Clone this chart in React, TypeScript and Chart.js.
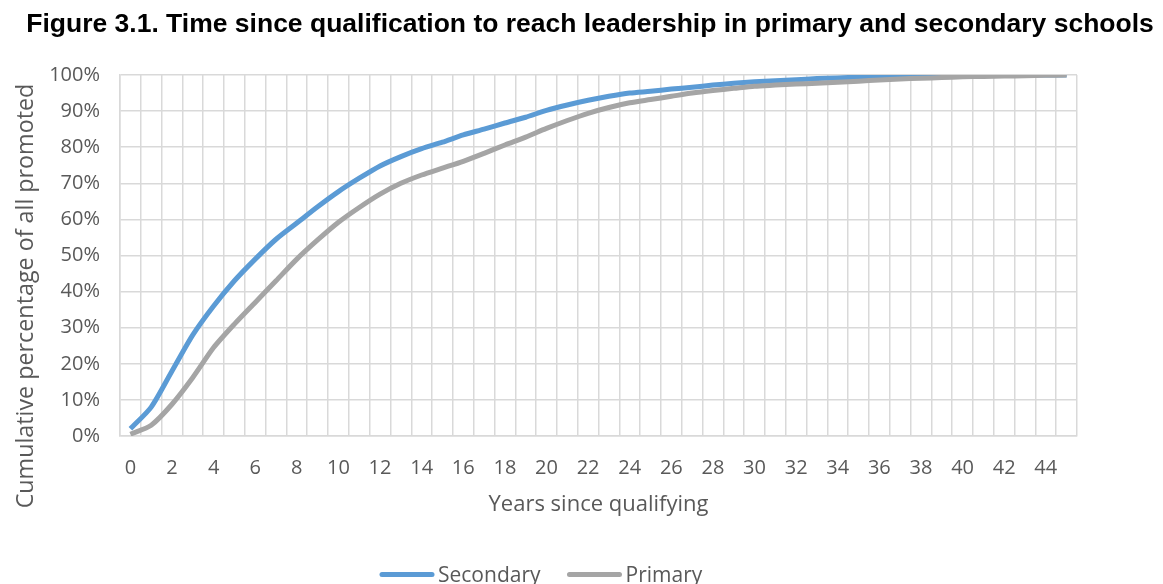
import React, { useEffect, useRef } from 'react';
import { Chart, registerables } from 'chart.js';

Chart.register(...registerables);

const years = ['0','1','2','3','4','5','6','7','8','9','10','11','12','13','14','15','16','17','18','19','20','21','22','23','24','25','26','27','28','29','30','31','32','33','34','35','36','37','38','39','40','41','42','43','44','45'];

const secondary = [2, 8, 18, 28, 36, 43, 49, 54.5, 59, 63.5, 67.7, 71.4, 74.8, 77.4, 79.6, 81.4, 83.4, 85, 86.7, 88.3, 90.2, 91.7, 93, 94.1, 95, 95.5, 96.1, 96.6, 97.2, 97.7, 98.1, 98.4, 98.7, 99, 99.2, 99.4, 99.6, 99.7, 99.8, 99.9, 99.9, 100, 100, 100, 100, 100];

const primary = [0.5, 3, 8.8, 16.2, 24.5, 31, 37, 43, 49, 54.3, 59.2, 63.3, 67, 70, 72.3, 74.2, 76.1, 78.3, 80.6, 82.8, 85.2, 87.4, 89.4, 91, 92.3, 93.2, 94.1, 95, 95.7, 96.3, 96.9, 97.2, 97.5, 97.7, 98, 98.3, 98.6, 98.9, 99.1, 99.3, 99.5, 99.6, 99.7, 99.8, 99.9, 100];

const TITLE = 'Figure 3.1. Time since qualification to reach leadership in primary and secondary schools';
const Y_TITLE = 'Cumulative percentage of all promoted';
const X_TITLE = 'Years since qualifying';

const BLUE = '#5B9BD5';
const GRAY = '#A5A5A5';
const TEXT = '#595959';
const GRID = '#D9D9D9';
const FONT = '"Open Sans", "Noto Sans", sans-serif';

const extras = {
  id: 'extras',
  afterDraw(chart: any) {
    const ctx = chart.ctx;
    const area = chart.chartArea;
    ctx.save();
    // main title
    ctx.fillStyle = '#000';
    ctx.font = 'bold 26.5px "Liberation Sans", Arial, sans-serif';
    ctx.textAlign = 'center';
    ctx.textBaseline = 'alphabetic';
    ctx.fillText(TITLE, 590, 32);

    // y-axis title
    ctx.save();
    ctx.translate(33, 296);
    ctx.rotate(-Math.PI / 2);
    ctx.font = '23.3px ' + FONT;
    ctx.fillStyle = TEXT;
    ctx.textAlign = 'center';
    ctx.textBaseline = 'alphabetic';
    ctx.fillText(Y_TITLE, 0, 0);
    ctx.restore();

    // x-axis title
    ctx.font = '22px ' + FONT;
    ctx.fillStyle = TEXT;
    ctx.textAlign = 'center';
    ctx.textBaseline = 'middle';
    ctx.fillText(X_TITLE, (area.left + area.right) / 2, 505);

    // legend
    ctx.font = '21px ' + FONT;
    ctx.textAlign = 'left';
    ctx.textBaseline = 'alphabetic';
    let x = 382;
    const ly = 574.5;
    chart.data.datasets.forEach((ds: any) => {
      ctx.strokeStyle = ds.borderColor;
      ctx.lineWidth = 5;
      ctx.lineCap = 'round';
      ctx.beginPath();
      ctx.moveTo(x, ly);
      ctx.lineTo(x + 50, ly);
      ctx.stroke();
      ctx.fillStyle = TEXT;
      ctx.fillText(ds.label, x + 56, 582);
      x += 56 + ctx.measureText(ds.label).width + 29;
    });
    ctx.restore();
  },
};

export default function App() {
  const ref = useRef<HTMLCanvasElement>(null);
  useEffect(() => {
    const chart = new Chart(ref.current!, {
      type: 'line',
      data: {
        labels: years,
        datasets: [
          { label: 'Secondary', data: secondary, borderColor: BLUE, backgroundColor: BLUE, borderWidth: 5, pointRadius: 0, tension: 0.25, order: 1 },
          { label: 'Primary', data: primary, borderColor: GRAY, backgroundColor: GRAY, borderWidth: 5, pointRadius: 0, tension: 0.25, order: 0 },
        ],
      },
      options: {
        responsive: false,
        animation: false,
        layout: { padding: { top: 75, left: 0, right: 86, bottom: 84 } },
        plugins: {
          legend: { display: false },
          title: { display: false },
          tooltip: { enabled: false },
        },
        scales: {
          x: {
            type: 'category',
            offset: true,
            grid: { offset: true, color: GRID, lineWidth: 1.5, drawTicks: false },
            border: { color: GRID, width: 1.5 },
            ticks: {
              autoSkip: false,
              maxRotation: 0,
              padding: 20,
              color: TEXT,
              font: { family: FONT, size: 20 },
              callback: function (_v: any, i: number) { return i % 2 === 0 ? years[i] : ''; },
            },
          },
          y: {
            min: 0,
            max: 100,
            grid: { color: GRID, lineWidth: 1.5, drawTicks: false },
            border: { color: GRID, width: 1.5 },
            afterFit: (s: any) => { s.width = 120; },
            ticks: {
              stepSize: 10,
              padding: 20,
              color: TEXT,
              font: { family: FONT, size: 20 },
              callback: (v: any) => v + '%',
            },
          },
        },
      },
      plugins: [extras],
    });
    return () => chart.destroy();
  }, []);
  return (
    <div style={{ position: 'absolute', left: 0, top: 0, width: 1163, height: 584, background: '#fff' }}>
      <canvas ref={ref} width={1163} height={584} />
    </div>
  );
}
